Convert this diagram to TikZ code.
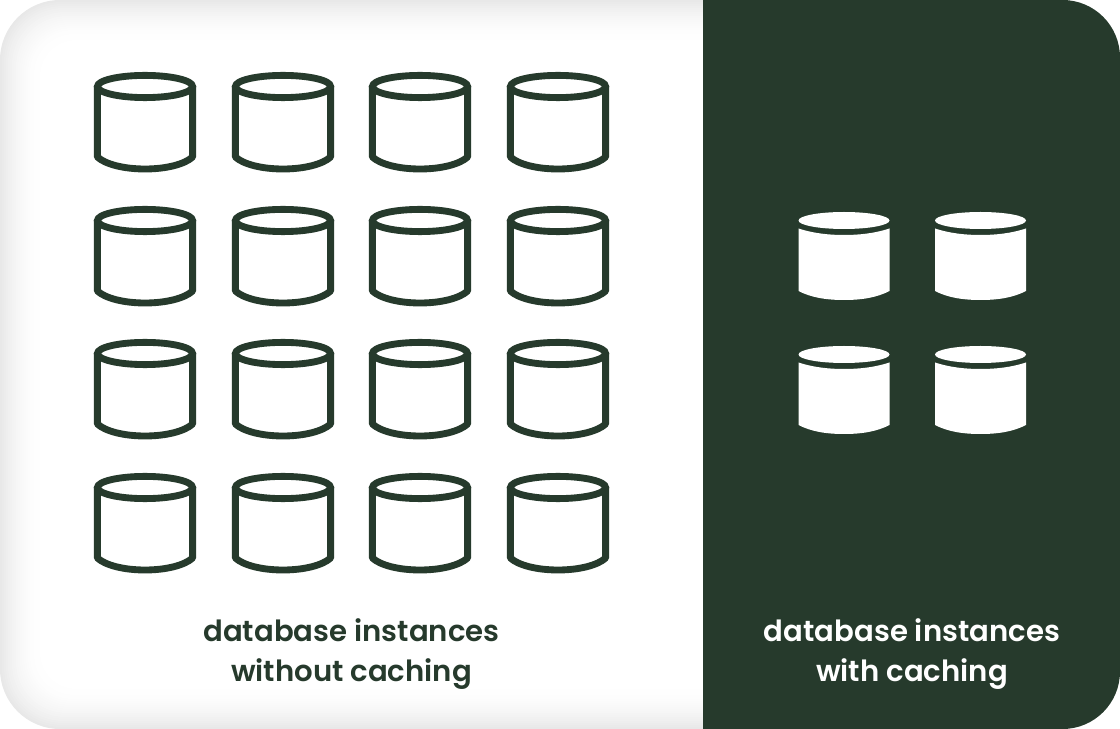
\documentclass[tikz,border=0pt]{standalone}
\usepackage{fontspec}
\setmainfont[BoldFont=Poppins SemiBold]{Poppins}
\definecolor{pine}{HTML}{263A2C}
\tikzset{
	caption/.style = {align=center,font=\bfseries\fontsize{16.6}{22.4}\selectfont},
	dbopen/.pic = {
		\draw[pine,line width=3.9pt,line join=round] (-47.6,14.5) -- (-47.6,85)
			.. controls (-40,92) and (-22,97) .. (0,97)
			.. controls (22,97) and (40,92) .. (47.6,85) -- (47.6,14.5);
		\draw[pine,line width=3.9pt] (0,14.5) ellipse [x radius=47.6,y radius=11.1];
	},
	dbsolid/.pic = {
		\fill[white] (0,8.5) ellipse [x radius=45.5,y radius=8.5];
		\fill[white] (-45.5,16.5) .. controls (-30,21.5) and (-15,23) .. (0,23)
			.. controls (15,23) and (30,21.5) .. (45.5,16.5) -- (45.5,79)
			.. controls (33,85.5) and (18,88) .. (0,88)
			.. controls (-18,88) and (-33,85.5) .. (-45.5,79) -- cycle;
	}
}
\begin{document}
\begin{tikzpicture}[x=0.02cm,y=-0.02cm]
	\useasboundingbox (0,0) rectangle (1120,729);
	% soft grey edge of the card, fading in to white
	\foreach \i in {0,...,22} {
		\pgfmathsetmacro{\inset}{2*\i}
		\pgfmathsetmacro{\shade}{9*(1-\i/22)*(1-\i/22)}
		\pgfmathsetmacro{\bend}{1.2-0.012*\inset}
		\fill[black!\shade!white,rounded corners=\bend cm]
			(\inset,\inset) rectangle (1120-\inset,729-\inset);
	}
	\fill[pine] (703,0) [rounded corners=1.15cm] -- (1120,0) -- (1120,729) [sharp corners] -- (703,729) -- cycle;
	% without caching
	\foreach \x in {145,283,420,558}
		\foreach \y in {72,206,339,473}
			\pic at (\x,\y) {dbopen};
	% with caching
	\foreach \x in {844,980.5}
		\foreach \y in {212,346}
			\pic at (\x,\y) {dbsolid};
	\node[caption,text=pine] (without) at (351.5,654) {database instances\\without caching};
	\node[caption,text=white] (with) at (912,654) {database instances\\with caching};
\end{tikzpicture}
\end{document}
